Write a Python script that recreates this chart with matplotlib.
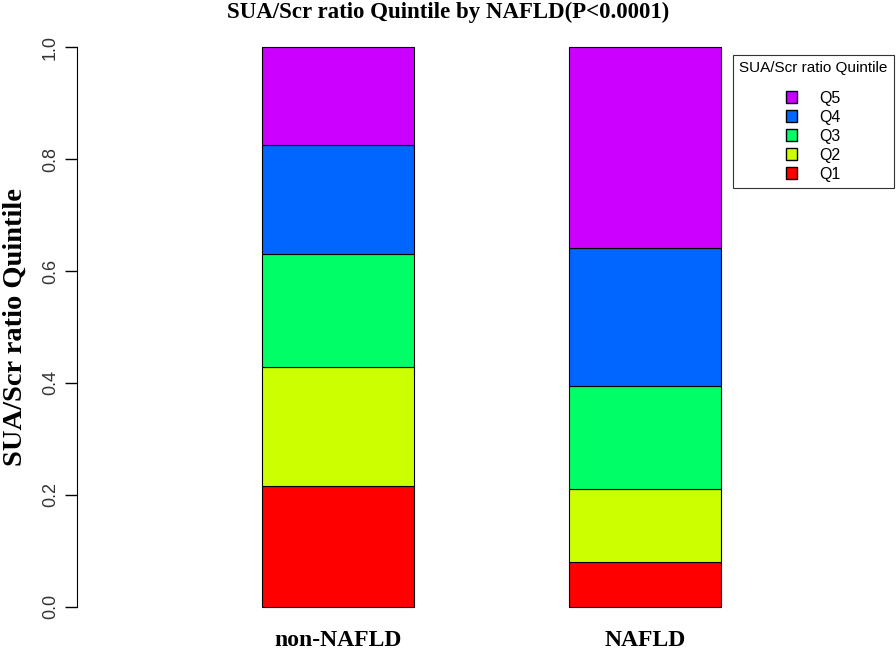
import numpy as np
import matplotlib.pyplot as plt
from matplotlib.patches import Patch

groups = ['non-NAFLD', 'NAFLD']
quintiles = ['Q1', 'Q2', 'Q3', 'Q4', 'Q5']
# proportions of each quintile within a group
non_nafld = [0.216, 0.213, 0.201, 0.195, 0.175]
nafld = [0.080, 0.131, 0.184, 0.246, 0.359]
colors = ['#FF0000', '#CCFF00', '#00FF66', '#0066FF', '#CC00FF']

fig = plt.figure(figsize=(8.96, 6.51), dpi=100)
ax = fig.add_axes([77/896, 1 - 629/651, 1 - 77/896, 604/651])

x = np.arange(len(groups))
vals = np.array([non_nafld, nafld]).T
bottom = np.zeros(len(groups))
for i in range(len(quintiles)):
    ax.bar(x, vals[i], width=0.495, bottom=bottom, color=colors[i],
           edgecolor='black', linewidth=0.8)
    bottom += vals[i]

ax.set_xlim(-0.85, 1.818)
ax.set_ylim(-0.04, 1.04)
for s in ['top', 'right', 'bottom']:
    ax.spines[s].set_visible(False)
ax.spines['left'].set_bounds(0, 1)
ax.set_yticks([0, 0.2, 0.4, 0.6, 0.8, 1.0])
ax.set_yticklabels(['0.0', '0.2', '0.4', '0.6', '0.8', '1.0'], rotation=90,
                   va='center', family='Liberation Sans', fontsize=13, color='#333333')
ax.tick_params(axis='y', length=9, width=1, pad=4)
ax.set_xticks(x)
ax.set_xticklabels(groups, family='Liberation Serif', fontweight='bold', fontsize=17)
ax.tick_params(axis='x', length=0, pad=1)

ax.set_ylabel('SUA/Scr ratio Quintile', family='Liberation Serif', fontweight='bold',
              fontsize=20.5, labelpad=10)
fig.text(0.5, 0.997, 'SUA/Scr ratio Quintile by NAFLD(P<0.0001)', ha='center', va='top',
         family='Liberation Serif', fontweight='bold', fontsize=16.5)

handles = [Patch(facecolor=colors[i], edgecolor='black', label=quintiles[i])
           for i in range(4, -1, -1)]
leg = fig.legend(handles=handles, title='SUA/Scr ratio Quintile', loc='upper left',
                 bbox_to_anchor=(733/896, 1 - 55/651), fancybox=False, framealpha=1,
                 edgecolor='#333333', prop={'family': 'Liberation Sans', 'size': 11.5},
                 title_fontproperties={'family': 'Liberation Sans', 'size': 11},
                 handlelength=0.7, handleheight=0.7, handletextpad=1.4,
                 labelspacing=0.25, borderpad=0.4, borderaxespad=0, alignment='center')
leg.get_frame().set_linewidth(0.8)
leg._legend_box.sep = 11

fig.savefig('out.png', dpi=100)
